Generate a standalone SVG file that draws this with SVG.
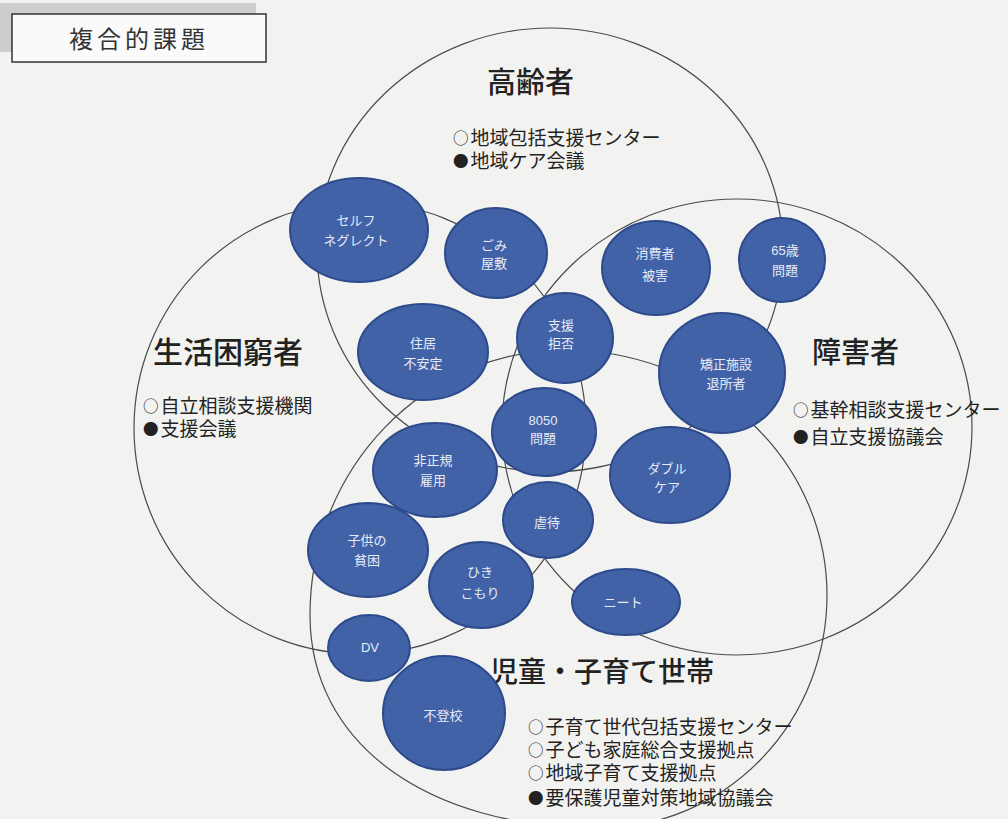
<svg xmlns="http://www.w3.org/2000/svg" width="1008" height="819" viewBox="0 0 1008 819">
<style>
.set{fill:none;stroke:#4a4a4a;stroke-width:1.2}
.node{fill:#4262a8;stroke:#2d4a8a;stroke-width:2}
.nt{font-family:"Liberation Sans","Noto Sans CJK JP",sans-serif;font-size:13px;fill:#e6ebf5;text-anchor:middle}
.title{font-family:"Noto Sans CJK JP",sans-serif;font-weight:500;fill:#222}
.list{font-family:"Liberation Sans","Noto Sans CJK JP",sans-serif;font-size:19px;fill:#222}
.sym{font-family:"Noto Sans CJK JP",sans-serif;font-size:15.5px}
</style>
<rect x="0" y="0" width="1008" height="819" fill="#f2f2f0"/>
<g id="header">
<rect x="0" y="3" width="256" height="49" fill="#cdcdcd"/>
<rect x="12" y="14" width="254" height="48" fill="#fafafa" stroke="#333" stroke-width="1.5"/>
<text x="69" y="48" font-family="Noto Sans CJK JP,sans-serif" font-size="24" letter-spacing="4" fill="#333">複合的課題</text>
</g>
<g id="connectors">
<ellipse id="set-elderly" class="set" cx="550" cy="250" rx="233" ry="222"/>
<circle id="set-poverty" class="set" cx="360" cy="428" r="226"/>
<ellipse id="set-disability" class="set" cx="737" cy="427" rx="235" ry="228"/>
<path id="set-child" class="set" d="M310 615 A255 265 0 0 1 565 350 A262 245 0 0 1 827 595 A227 233 0 0 1 600 828 C426 828 310 743 310 615 Z"/>
</g>
<g id="label-elderly">
<text class="title" x="487" y="93" font-size="29">高齢者</text>
<text class="list"><tspan x="453" y="144" class="sym">○</tspan><tspan dx="2" y="145">地域包括支援センター</tspan><tspan x="453" y="167" class="sym">●</tspan><tspan dx="2" y="168">地域ケア会議</tspan></text>
</g>
<g id="label-poverty">
<text class="title" x="153" y="363" font-size="30">生活困窮者</text>
<text class="list"><tspan x="143" y="412" class="sym">○</tspan><tspan dx="2" y="413">自立相談支援機関</tspan><tspan x="143" y="435" class="sym">●</tspan><tspan dx="2" y="436">支援会議</tspan></text>
</g>
<g id="label-disability">
<text class="title" x="812" y="363" font-size="29">障害者</text>
<text class="list"><tspan x="793" y="416" class="sym">○</tspan><tspan dx="2" y="417">基幹相談支援センター</tspan><tspan x="793" y="443" class="sym">●</tspan><tspan dx="2" y="444">自立支援協議会</tspan></text>
</g>
<g id="label-child">
<text class="title" x="490" y="682" font-size="28">児童・子育て世帯</text>
<text class="list"><tspan x="528" y="733" class="sym">○</tspan><tspan dx="2" y="734">子育て世代包括支援センター</tspan><tspan x="528" y="756" class="sym">○</tspan><tspan dx="2" y="757">子ども家庭総合支援拠点</tspan><tspan x="528" y="779" class="sym">○</tspan><tspan dx="2" y="780">地域子育て支援拠点</tspan><tspan x="528" y="804" class="sym">●</tspan><tspan dx="2" y="805">要保護児童対策地域協議会</tspan></text>
</g>
<g id="n-self-neglect"><ellipse class="node" cx="359" cy="230" rx="69" ry="52"/><text class="nt"><tspan x="356" y="225">セルフ</tspan><tspan x="356" y="245">ネグレクト</tspan></text></g>
<g id="n-gomi"><ellipse class="node" cx="496" cy="253" rx="51" ry="45"/><text class="nt"><tspan x="494" y="250">ごみ</tspan><tspan x="494" y="268">屋敷</tspan></text></g>
<g id="n-housing"><ellipse class="node" cx="423" cy="352" rx="65" ry="48"/><text class="nt"><tspan x="423" y="348">住居</tspan><tspan x="423" y="368">不安定</tspan></text></g>
<g id="n-refusal"><ellipse class="node" cx="565" cy="338" rx="48" ry="45"/><text class="nt"><tspan x="561" y="330">支援</tspan><tspan x="561" y="348">拒否</tspan></text></g>
<g id="n-consumer"><ellipse class="node" cx="656" cy="268" rx="54" ry="47"/><text class="nt"><tspan x="655" y="258">消費者</tspan><tspan x="655" y="280">被害</tspan></text></g>
<g id="n-65"><ellipse class="node" cx="782" cy="260" rx="43" ry="42"/><text class="nt"><tspan x="785" y="255">65歳</tspan><tspan x="785" y="275">問題</tspan></text></g>
<g id="n-release"><ellipse class="node" cx="722" cy="373" rx="63" ry="60"/><text class="nt"><tspan x="726" y="369">矯正施設</tspan><tspan x="726" y="388">退所者</tspan></text></g>
<g id="n-8050"><ellipse class="node" cx="544" cy="432" rx="52" ry="44"/><text class="nt"><tspan x="543" y="425">8050</tspan><tspan x="543" y="443">問題</tspan></text></g>
<g id="n-double"><ellipse class="node" cx="670" cy="475" rx="60" ry="48"/><text class="nt"><tspan x="667" y="473">ダブル</tspan><tspan x="667" y="492">ケア</tspan></text></g>
<g id="n-irregular"><ellipse class="node" cx="435" cy="470" rx="62" ry="47"/><text class="nt"><tspan x="433" y="465">非正規</tspan><tspan x="433" y="485">雇用</tspan></text></g>
<g id="n-abuse"><ellipse class="node" cx="548" cy="520" rx="45" ry="38"/><text class="nt" x="547" y="527">虐待</text></g>
<g id="n-child-poverty"><ellipse class="node" cx="368" cy="550" rx="60" ry="47"/><text class="nt"><tspan x="367" y="545">子供の</tspan><tspan x="367" y="565">貧困</tspan></text></g>
<g id="n-hikikomori"><ellipse class="node" cx="481" cy="585" rx="52" ry="43"/><text class="nt"><tspan x="480" y="577">ひき</tspan><tspan x="480" y="598">こもり</tspan></text></g>
<g id="n-neet"><ellipse class="node" cx="626" cy="602" rx="54" ry="33"/><text class="nt" x="623" y="607">ニート</text></g>
<g id="n-dv"><ellipse class="node" cx="369" cy="648" rx="41" ry="33"/><text class="nt" x="370" y="652" font-size="11">DV</text></g>
<g id="n-truancy"><ellipse class="node" cx="444" cy="713" rx="61" ry="57"/><text class="nt" x="443" y="720">不登校</text></g>
</svg>
